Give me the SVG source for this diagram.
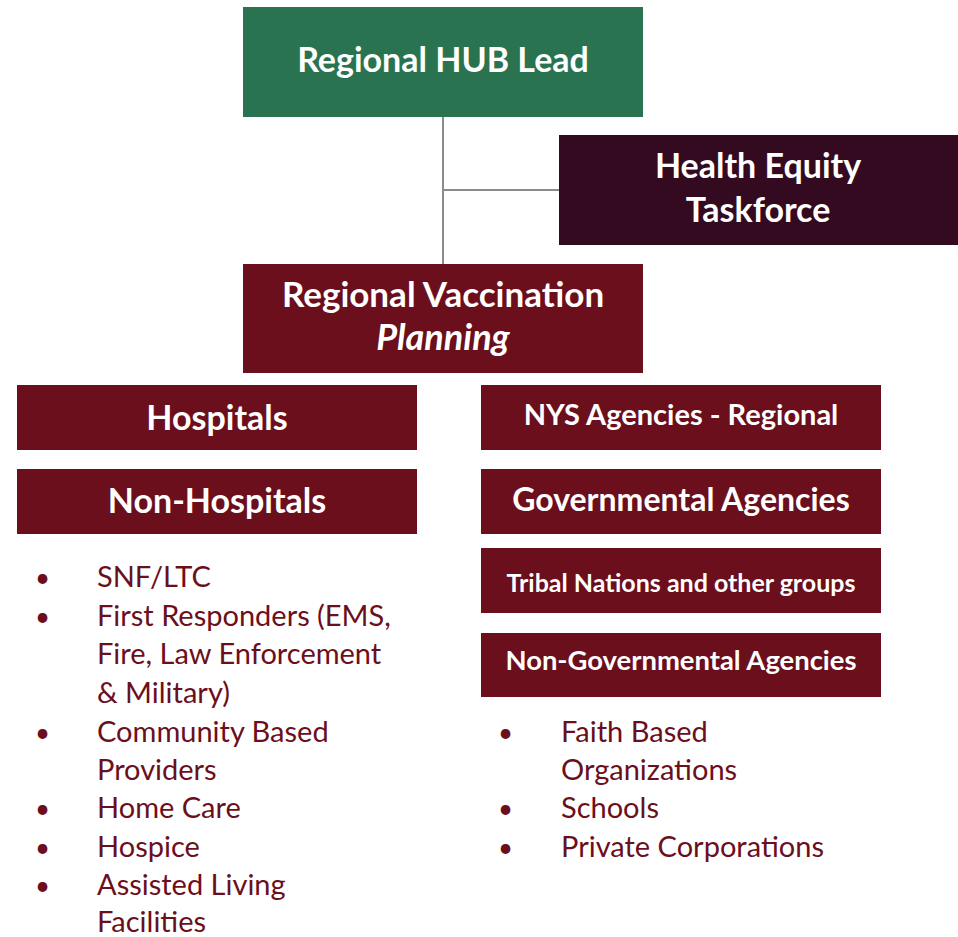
<svg xmlns="http://www.w3.org/2000/svg" width="958" height="937" viewBox="0 0 958 937">
<style>
.box{fill:#6B0F1C}
.t{font-family:Lato,"Open Sans",sans-serif;font-weight:bold;fill:#fff;text-anchor:middle}
.b{font-family:Lato,"Open Sans",sans-serif;fill:#6B0F1C;font-size:29px}
.d{font-size:26px}
.conn{stroke:#8C8C8C;stroke-width:2;fill:none}
</style>
<rect width="958" height="937" fill="#fff"/>
<g id="connectors">
<path class="conn" d="M443 117V264M443 190H559"/>
</g>
<g id="hub"><rect x="243" y="7" width="400" height="110" fill="#2A7350"/><text class="t" x="443" y="72" font-size="34">Regional HUB Lead</text></g>
<g id="equity"><rect x="559" y="135" width="399" height="110" fill="#340A20"/><text class="t" x="758" y="178" font-size="34">Health Equity</text><text class="t" x="758" y="222" font-size="34">Taskforce</text></g>
<g id="vacc"><rect class="box" x="243" y="264" width="400" height="109"/><text class="t" x="443" y="307" font-size="35">Regional Vaccination</text><text class="t" x="443" y="350" font-size="36" font-style="italic">Planning</text></g>
<g id="hospitals"><rect class="box" x="17" y="385" width="400" height="65"/><text class="t" x="217" y="430" font-size="34">Hospitals</text></g>
<g id="nonhospitals"><rect class="box" x="17" y="469" width="400" height="65"/><text class="t" x="217" y="513" font-size="34">Non-Hospitals</text></g>
<g id="nys"><rect class="box" x="481" y="385" width="400" height="65"/><text class="t" x="681" y="425" font-size="29">NYS Agencies - Regional</text></g>
<g id="gov"><rect class="box" x="481" y="469" width="400" height="65"/><text class="t" x="681" y="511" font-size="32">Governmental Agencies</text></g>
<g id="tribal"><rect class="box" x="481" y="548" width="400" height="65"/><text class="t" x="681" y="592" font-size="25">Tribal Nations and other groups</text></g>
<g id="nongov"><rect class="box" x="481" y="633" width="400" height="64"/><text class="t" x="681" y="670" font-size="27.4">Non-Governmental Agencies</text></g>
<g id="list-left" class="b">
<text class="d" x="35" y="587">•</text><text x="97" y="587">SNF/LTC</text>
<text class="d" x="35" y="626">•</text><text x="97" y="626">First Responders (EMS,</text>
<text x="97" y="664">Fire, Law Enforcement</text>
<text x="97" y="703">&amp; Military)</text>
<text class="d" x="35" y="742">•</text><text x="97" y="742">Community Based</text>
<text x="97" y="780">Providers</text>
<text class="d" x="35" y="818">•</text><text x="97" y="818">Home Care</text>
<text class="d" x="35" y="857">•</text><text x="97" y="857">Hospice</text>
<text class="d" x="35" y="895">•</text><text x="97" y="895">Assisted Living</text>
<text x="97" y="932">Facilities</text>
</g>
<g id="list-right" class="b">
<text class="d" x="498" y="742">•</text><text x="561" y="742">Faith Based</text>
<text x="561" y="780">Organizations</text>
<text class="d" x="498" y="818">•</text><text x="561" y="818">Schools</text>
<text class="d" x="498" y="857">•</text><text x="561" y="857">Private Corporations</text>
</g>
</svg>
